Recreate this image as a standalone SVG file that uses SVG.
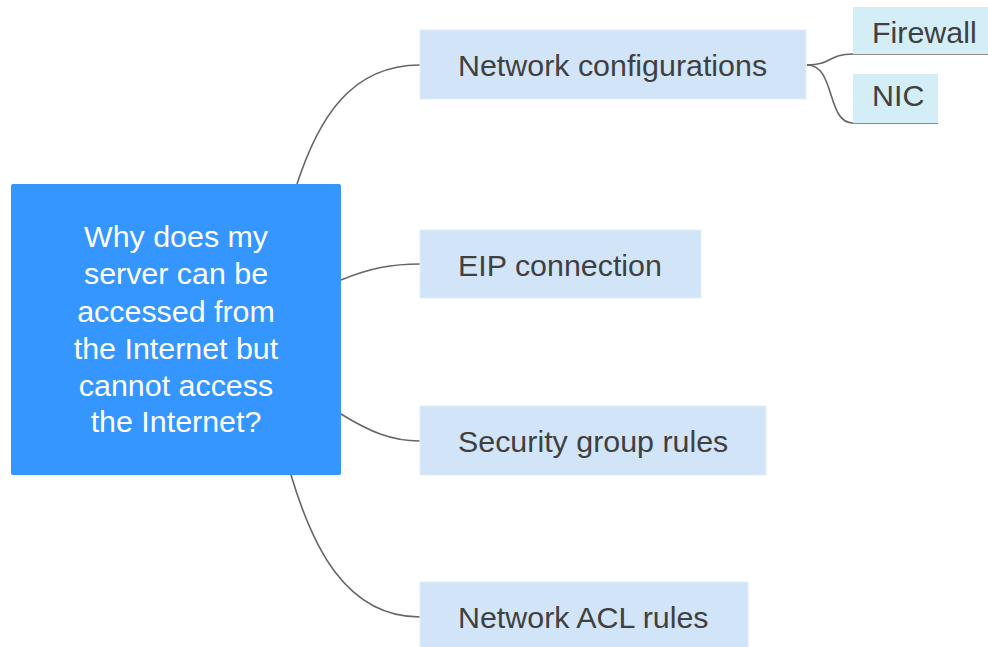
<svg xmlns="http://www.w3.org/2000/svg" width="988" height="647" viewBox="0 0 988 647">
<style>
text{font-family:"Liberation Sans",Arial,sans-serif;font-size:30.4px;fill:#404040}
.root text{fill:#ffffff;text-anchor:middle}
.topic{fill:#d2e5f8;stroke:#e2edf9;stroke-width:1}
.sub{fill:#d3eef6}
.conn path{fill:none;stroke:#666666;stroke-width:1.6}
</style>
<rect width="988" height="647" fill="#ffffff"/>
<g class="conn" id="connectors">
<path d="M297,184 C318,120 350,65 420,65"/>
<path d="M341,280 C370,268 392,264 420,264"/>
<path d="M341,414 C370,432 392,441 420,441"/>
<path d="M291,475 C312,545 345,617 420,617"/>
<path d="M807,65 C832,65 828,54 853,54 L988,54"/>
<path d="M807,65 C836,65 826,123 853,123 L938,123"/>
</g>
<g id="root" class="root">
<rect x="11" y="184" width="330" height="291" rx="2" fill="#3496fe"/>
<text x="176" y="247">Why does my</text>
<text x="176" y="284">server can be</text>
<text x="176" y="322">accessed from</text>
<text x="176" y="359">the Internet but</text>
<text x="176" y="396">cannot access</text>
<text x="176" y="432">the Internet?</text>
</g>
<g id="network-configurations">
<rect class="topic" x="420" y="30" width="386" height="69"/>
<text x="458" y="76">Network configurations</text>
</g>
<g id="eip-connection">
<rect class="topic" x="420" y="230" width="281" height="68"/>
<text x="458" y="276">EIP connection</text>
</g>
<g id="security-group-rules">
<rect class="topic" x="420" y="406" width="346" height="69"/>
<text x="458" y="452">Security group rules</text>
</g>
<g id="network-acl-rules">
<rect class="topic" x="420" y="582" width="328" height="69"/>
<text x="458" y="628">Network ACL rules</text>
</g>
<g id="firewall">
<rect class="sub" x="853" y="7" width="140" height="47"/>
<text x="872" y="43">Firewall</text>
</g>
<g id="nic">
<rect class="sub" x="853" y="74" width="85" height="49"/>
<text x="872" y="106">NIC</text>
</g>
</svg>
